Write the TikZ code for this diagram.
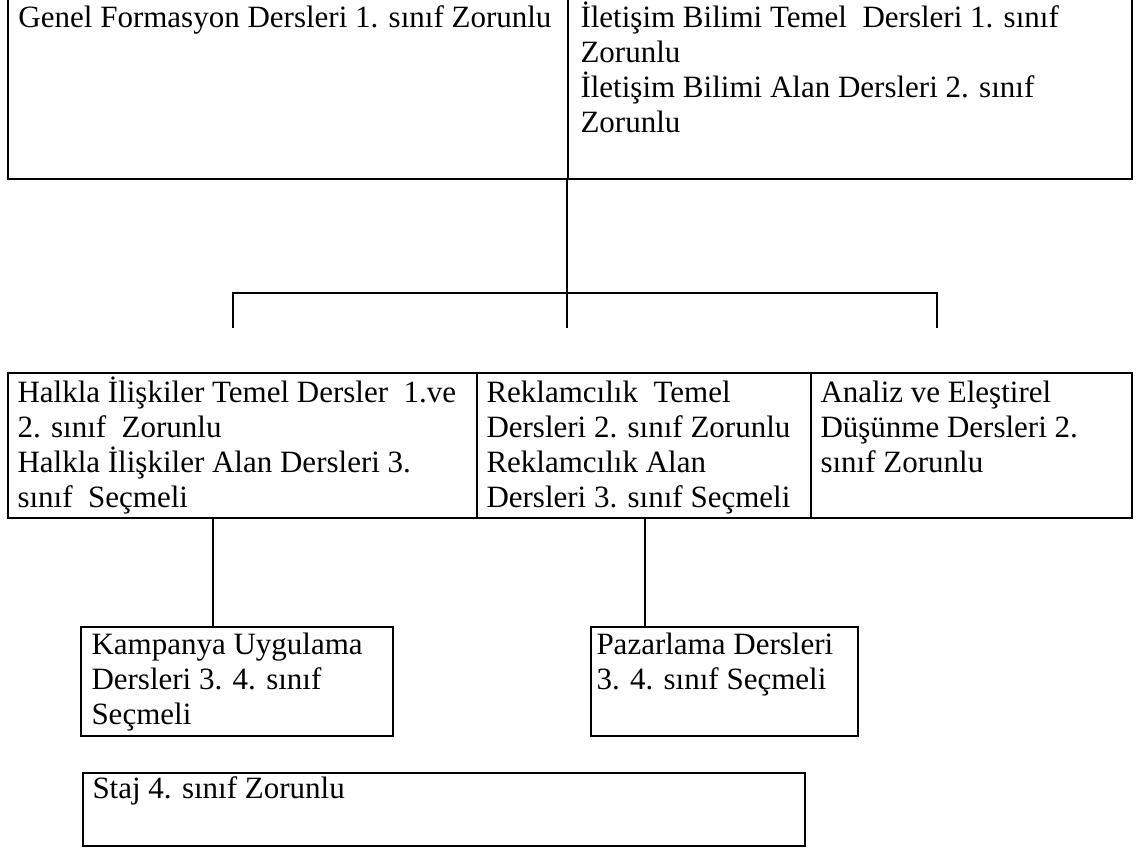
\documentclass[tikz,border=0pt]{standalone}
\usepackage{fontspec}
\setmainfont{Liberation Serif}
\usetikzlibrary{positioning}
\tikzset{
  kutu/.style={draw, line width=0.8pt, inner sep=0pt, anchor=north west},
  yazi/.style={anchor=base west, inner sep=0pt, align=left, font=\fontsize{12.4}{14}\selectfont},
  baglanti/.style={line width=0.8pt}
}
\begin{document}
\begin{tikzpicture}[x=0.4pt, y=-0.4pt]
  \clip (0,0) rectangle (1139,848);
  % ust kutu (yazilar son satirin tabanina yerlesir)
  \node[kutu, minimum width=560*0.4pt, minimum height=198*0.4pt] (genel) at (7,-20) {};
  \node[kutu, minimum width=564*0.4pt, minimum height=198*0.4pt] (ilet) at (567,-20) {};
  \node[yazi] (genelT) at (18,27) {Genel Formasyon Dersleri 1. sınıf Zorunlu};
  \node[yazi] (iletT) at (580,132) {İletişim Bilimi Temel\ \ Dersleri 1. sınıf\\Zorunlu\\İletişim Bilimi Alan Dersleri 2. sınıf\\Zorunlu};
  % orta sira
  \node[kutu, minimum width=469*0.4pt, minimum height=145*0.4pt] (halkla) at (7,372) {};
  \node[kutu, minimum width=334*0.4pt, minimum height=145*0.4pt] (rekl) at (476,372) {};
  \node[kutu, minimum width=321*0.4pt, minimum height=145*0.4pt] (analiz) at (810,372) {};
  \node[yazi] (halklaT) at (17,507) {Halkla İlişkiler Temel Dersler\ \ 1.ve\\2. sınıf\ \ Zorunlu\\Halkla İlişkiler Alan Dersleri 3.\\sınıf\ \ Seçmeli};
  \node[yazi] (reklT) at (486,507) {Reklamcılık\ \ Temel\\Dersleri 2. sınıf Zorunlu\\Reklamcılık Alan\\Dersleri 3. sınıf Seçmeli};
  \node[yazi] (analizT) at (820,472) {Analiz ve Eleştirel\\Düşünme Dersleri 2.\\sınıf Zorunlu};
  % alt kutular
  \node[kutu, minimum width=312*0.4pt, minimum height=109*0.4pt] (kamp) at (80,626) {};
  \node[kutu, minimum width=267*0.4pt, minimum height=109*0.4pt] (paz) at (590,626) {};
  \node[kutu, minimum width=722*0.4pt, minimum height=73*0.4pt] (staj) at (82,772) {};
  \node[yazi] (kampT) at (91,724) {Kampanya Uygulama\\Dersleri 3. 4. sınıf\\Seçmeli};
  \node[yazi] (pazT) at (596,689) {Pazarlama Dersleri\\3. 4. sınıf Seçmeli};
  \node[yazi] (stajT) at (92,798) {Staj 4. sınıf Zorunlu};
  % cizgiler
  \coordinate (catal) at (567,293);
  \coordinate (ucSol) at (233,328);
  \coordinate (ucOrta) at (567,328);
  \coordinate (ucSag) at (937,328);
  \coordinate (kx) at (213,0);
  \coordinate (px) at (645,0);
  \draw[baglanti] (ilet.south west) -- (catal);
  \draw[baglanti] (ucSol) |- (catal) -| (ucSag);
  \draw[baglanti] (catal) -- (ucOrta);
  \draw[baglanti] (halkla.south -| kx) -- (kamp.north -| kx);
  \draw[baglanti] (rekl.south -| px) -- (paz.north -| px);
\end{tikzpicture}
\end{document}
